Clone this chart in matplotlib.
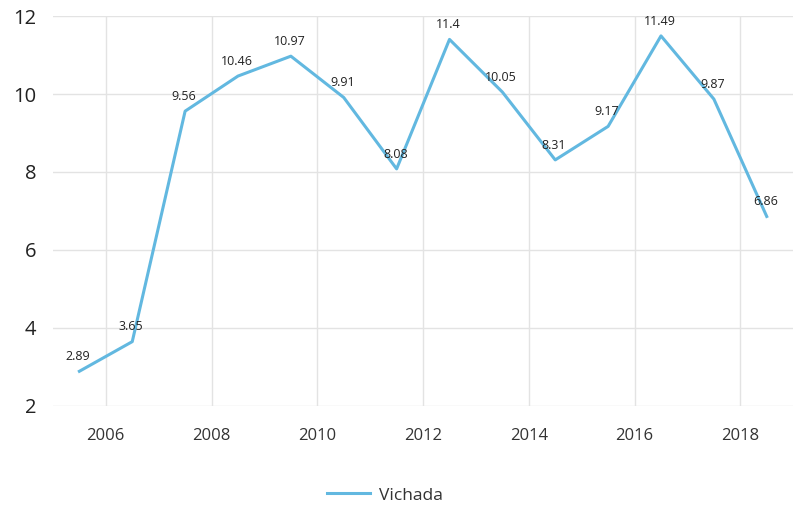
import matplotlib.pyplot as plt

plt.rcParams['font.family'] = ['Open Sans', 'DejaVu Sans']

# Data
years = [2006, 2007, 2008, 2009, 2010, 2011, 2012, 2013, 2014, 2015, 2016, 2017, 2018, 2019]
values = [2.89, 3.65, 9.56, 10.46, 10.97, 9.91, 8.08, 11.4, 10.05, 8.31, 9.17, 11.49, 9.87, 6.86]
xticks = [2006, 2008, 2010, 2012, 2014, 2016, 2018]
yticks = [2, 4, 6, 8, 10, 12]
series_name = 'Vichada'

LINE_COLOR = '#62b8e0'
GRID_COLOR = '#e3e3e3'

fig = plt.figure(figsize=(8.02, 5.08), dpi=100)
ax = fig.add_axes([0.066, 0.2008, 0.923, 0.7677])

# points sit in the middle of each year band
xs = [y - 0.5 for y in years]
ax.plot(xs, values, color=LINE_COLOR, lw=2.2, label=series_name, zorder=3)

for x, v in zip(xs, values):
    ax.annotate(f'{v:g}', (x, v), xytext=(-1, 6), textcoords='offset points',
                ha='center', va='bottom', fontsize=9, color='#222222', zorder=4)

ax.set_xlim(2005, 2019)
ax.set_ylim(2, 12)
ax.set_xticks(xticks)
ax.set_yticks(yticks)
ax.grid(True, color=GRID_COLOR, lw=1)
ax.set_axisbelow(True)
for s in ax.spines.values():
    s.set_visible(False)
ax.tick_params(axis='both', length=0)
ax.tick_params(axis='x', labelsize=12, colors='#333333', pad=16)
ax.tick_params(axis='y', labelsize=14.5, colors='#222222', pad=12)

fig.legend(loc='lower center', bbox_to_anchor=(0.48, -0.022), frameon=False,
           fontsize=12.5, handlelength=2.5, handletextpad=0.5, labelcolor='#333333')

fig.savefig('out.png', dpi=100)
